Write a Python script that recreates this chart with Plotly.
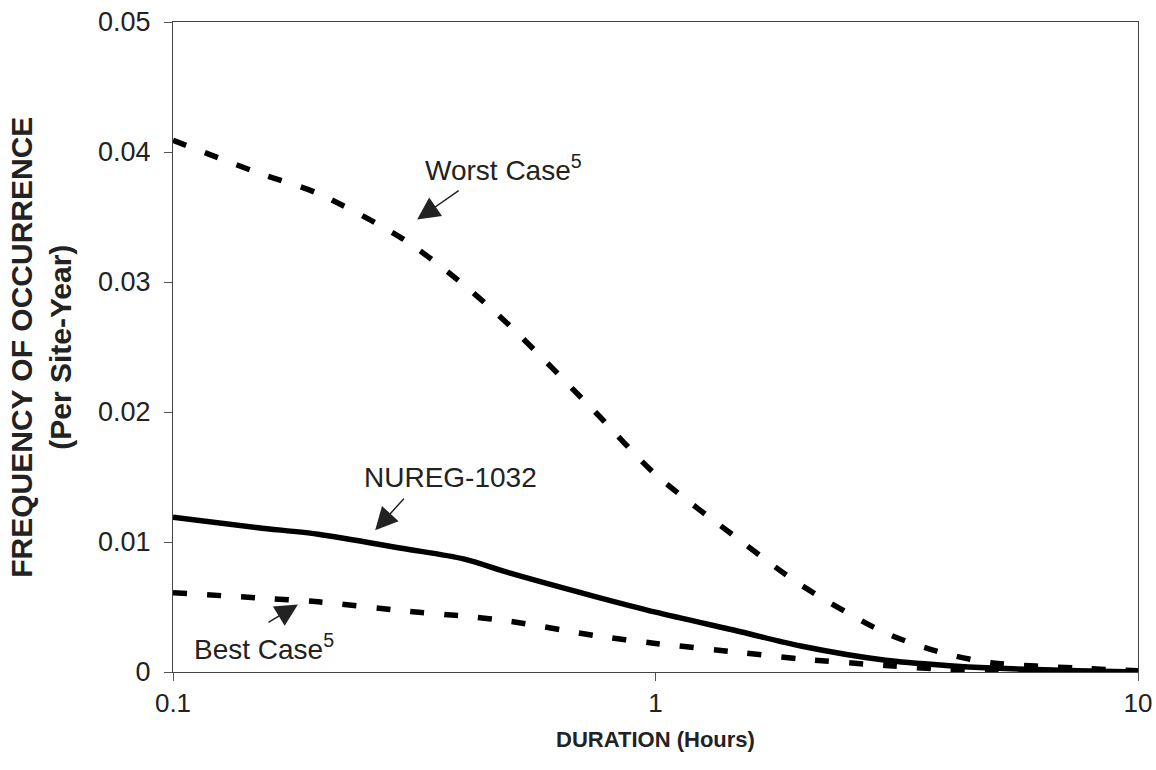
import plotly.graph_objects as go

duration = [0.1, 0.15, 0.2, 0.3, 0.4, 0.5, 0.75, 1, 1.5, 2, 3, 4, 5, 7.5, 10]
worst_case = [0.0409, 0.0384, 0.0368, 0.0333, 0.0298, 0.0266, 0.0200, 0.0152,
              0.0101, 0.0067, 0.0030, 0.0014, 0.0007, 0.0003, 0.0001]
nureg_1032 = [0.0119, 0.0111, 0.0106, 0.0095, 0.0087, 0.0076, 0.0058, 0.0046,
              0.0031, 0.0020, 0.0009, 0.0005, 0.0003, 0.0001, 0.0000]
best_case = [0.0061, 0.0057, 0.0054, 0.0047, 0.0043, 0.0039, 0.0028, 0.0022,
             0.0015, 0.0010, 0.0005, 0.0002, 0.0001, 0.0000, 0.0000]

y_ticks = [0, 0.01, 0.02, 0.03, 0.04, 0.05]
y_tick_labels = ["0", "0.01", "0.02", "0.03", "0.04", "0.05"]
x_ticks = [0.1, 1, 10]
x_tick_labels = ["0.1", "1", "10"]

FONT = "Arial, Liberation Sans, sans-serif"

fig = go.Figure()
fig.add_trace(go.Scatter(x=duration, y=worst_case, mode="lines", name="Worst Case",
                         line=dict(color="black", width=5.5, dash="14px,20px",
                                   shape="spline", smoothing=0.8)))
fig.add_trace(go.Scatter(x=duration, y=nureg_1032, mode="lines", name="NUREG-1032",
                         line=dict(color="black", width=5.5,
                                   shape="spline", smoothing=0.8)))
fig.add_trace(go.Scatter(x=duration, y=best_case, mode="lines", name="Best Case",
                         line=dict(color="black", width=5.5, dash="14px,20px",
                                   shape="spline", smoothing=0.8)))

ann_font = dict(family=FONT, size=28, color="#222")
arrow_kw = dict(showarrow=True, arrowhead=2, arrowsize=3, arrowwidth=1.5,
                arrowcolor="#222", text="", xref="x", yref="y")

annotations = [
    # labels
    dict(x=-0.482, y=0.0388, xref="x", yref="y", text="Worst Case<sup>5</sup>",
         showarrow=False, xanchor="left", yanchor="middle", font=ann_font),
    dict(x=-0.608, y=0.0150, xref="x", yref="y", text="NUREG-1032",
         showarrow=False, xanchor="left", yanchor="middle", font=ann_font),
    dict(x=-0.961, y=0.0019, xref="x", yref="y", text="Best Case<sup>5</sup>",
         showarrow=False, xanchor="left", yanchor="middle", font=ann_font),
    # arrows
    dict(x=-0.494, y=0.0348, ax=43, ay=-30, **arrow_kw),
    dict(x=-0.581, y=0.0109, ax=30, ay=-33, **arrow_kw),
    dict(x=-0.741, y=0.0052, ax=-31, ay=19, **arrow_kw),
    # y title
    dict(x=-0.137, y=0.5, xref="paper", yref="paper",
         text="<b>FREQUENCY OF OCCURRENCE<br>(Per Site-Year)</b>",
         textangle=-90, showarrow=False, xanchor="center", yanchor="middle",
         font=dict(family=FONT, size=30, color="#222")),
]

fig.update_layout(
    width=1156, height=770,
    margin=dict(l=173, r=18, t=22, b=98, autoexpand=False),
    paper_bgcolor="white", plot_bgcolor="white",
    showlegend=False,
    annotations=annotations,
    font=dict(family=FONT, color="#222"),
    xaxis=dict(type="log", range=[-1, 1], tickvals=x_ticks, ticktext=x_tick_labels,
               ticks="outside", ticklen=8, tickcolor="#555", tickwidth=1,
               ticklabeloverflow="allow",
               showline=True, linecolor="#444", linewidth=1.2, mirror=True,
               showgrid=False, zeroline=False, automargin=False,
               tickfont=dict(family=FONT, size=26, color="#222"),
               title=dict(text="<b>DURATION (Hours)</b>", standoff=14,
                          font=dict(family=FONT, size=22, color="#222"))),
    yaxis=dict(range=[0, 0.05], tickvals=y_ticks, ticktext=y_tick_labels,
               ticks="outside", ticklen=8, tickcolor="#555", tickwidth=1,
               ticklabelstandoff=8, ticklabeloverflow="allow",
               showline=True, linecolor="#444", linewidth=1.2, mirror=True,
               showgrid=False, zeroline=False, automargin=False,
               tickfont=dict(family=FONT, size=27, color="#222")),
)

fig.write_html("out.html",
               config={"displayModeBar": False},
               post_script="document.body.style.margin='0';document.body.style.overflow='hidden';")
